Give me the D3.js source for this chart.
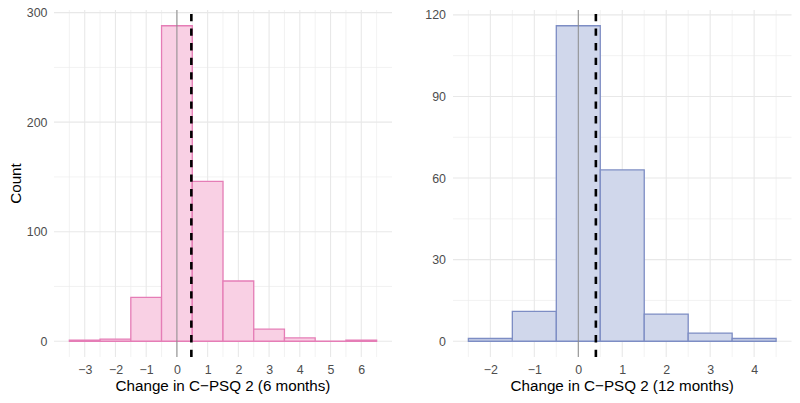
<!DOCTYPE html>
<html>
<head>
<meta charset="utf-8">
<script src="https://cdn.jsdelivr.net/npm/d3@7"></script>
<style>
  body { margin: 0; background: #fff; }
  svg { display: block; font-family: "Liberation Sans", Arial, Helvetica, sans-serif; }
</style>
</head>
<body>
<svg id="chart" width="800" height="403"></svg>
<script>
// ---- Data ----
const binsLeft = [-3, -2, -1, 0, 1, 2, 3, 4, 5, 6];
const countsLeft = [1, 2, 40, 288, 146, 55, 11, 3, 0, 1];
const meanLeft = 0.47;
const xTicksLeft = [-3, -2, -1, 0, 1, 2, 3, 4, 5, 6];
const yTicksLeft = [0, 100, 200, 300];
const titleLeft = "Change in C\u2212PSQ 2 (6 months)";

const binsRight = [-2, -1, 0, 1, 2, 3, 4];
const countsRight = [1, 11, 116, 63, 10, 3, 1];
const meanRight = 0.4;
const xTicksRight = [-2, -1, 0, 1, 2, 3, 4];
const yTicksRight = [0, 30, 60, 90, 120];
const titleRight = "Change in C\u2212PSQ 2 (12 months)";

const yLabel = "Count";

// ---- Drawing ----
const svg = d3.select("#chart");
const binWidth = 1;

function minorBreaks(ticks, domain) {
  const step = ticks[1] - ticks[0];
  const out = [];
  for (let i = -1; i < ticks.length; i++) {
    const base = i < 0 ? ticks[0] - step : ticks[i];
    const m = base + step / 2;
    if (m >= domain[0] && m <= domain[1]) out.push(m);
  }
  return out;
}

function panel(opts) {
  const { left, right, top, bottom, bins, counts, mean, xTicks, yTicks, title, fill, stroke, yPad } = opts;
  const xMin = d3.min(bins) - binWidth / 2, xMax = d3.max(bins) + binWidth / 2;
  const xExp = (xMax - xMin) * 0.05;
  const yMax = d3.max(counts);
  const yExp = yMax * 0.05;
  const x = d3.scaleLinear().domain([xMin - xExp, xMax + xExp]).range([left, right]);
  const y = d3.scaleLinear().domain([-yExp, yMax + yExp]).range([bottom, top]);

  const g = svg.append("g");
  // grid minor
  const xMinor = minorBreaks(xTicks, x.domain());
  const yMinor = minorBreaks(yTicks, y.domain());
  g.selectAll(".xminor").data(xMinor).join("line")
    .attr("x1", d => x(d)).attr("x2", d => x(d)).attr("y1", top).attr("y2", bottom)
    .attr("stroke", "#EDEDED").attr("stroke-width", 0.7);
  g.selectAll(".yminor").data(yMinor).join("line")
    .attr("y1", d => y(d)).attr("y2", d => y(d)).attr("x1", left).attr("x2", right)
    .attr("stroke", "#EDEDED").attr("stroke-width", 0.7);
  // grid major
  g.selectAll(".xmajor").data(xTicks).join("line")
    .attr("x1", d => x(d)).attr("x2", d => x(d)).attr("y1", top).attr("y2", bottom)
    .attr("stroke", "#E8E8E8").attr("stroke-width", 1.1);
  g.selectAll(".ymajor").data(yTicks).join("line")
    .attr("y1", d => y(d)).attr("y2", d => y(d)).attr("x1", left).attr("x2", right)
    .attr("stroke", "#E8E8E8").attr("stroke-width", 1.1);

  // bars (as closed paths so zero-count bins still show their outline)
  g.selectAll(".bar").data(bins.map((b, i) => ({ b, c: counts[i] }))).join("path")
    .attr("d", d => {
      const x0 = x(d.b - binWidth / 2), x1 = x(d.b + binWidth / 2);
      const y0 = y(0), y1 = y(d.c);
      return `M${x0},${y0}L${x0},${y1}L${x1},${y1}L${x1},${y0}Z`;
    })
    .attr("fill", fill).attr("stroke", stroke).attr("stroke-width", 1.3);

  // zero line
  g.append("line").attr("x1", x(0)).attr("x2", x(0)).attr("y1", top).attr("y2", bottom)
    .attr("stroke", "#8a8a8a").attr("stroke-width", 1);
  // mean dashed line (drawn bottom -> top)
  g.append("line").attr("x1", x(mean)).attr("x2", x(mean)).attr("y1", bottom).attr("y2", top)
    .attr("stroke", "#000").attr("stroke-width", 2.6).attr("stroke-dasharray", "7.3,7.3");

  // axes
  const xa = g.append("g").attr("transform", `translate(0,${bottom})`)
    .call(d3.axisBottom(x).tickValues(xTicks).tickSize(0).tickPadding(8)
      .tickFormat(d => d < 0 ? "\u2212" + Math.abs(d) : String(d)));
  const ya = g.append("g").attr("transform", `translate(${left},0)`)
    .call(d3.axisLeft(y).tickValues(yTicks).tickSize(0).tickPadding(yPad));
  [xa, ya].forEach(a => {
    a.select(".domain").remove();
    a.selectAll("text").attr("fill", "#4D4D4D").style("font-size", "12.4px")
      .style("font-family", "'Liberation Sans', Arial, sans-serif");
  });

  g.append("text").attr("x", (left + right) / 2).attr("y", 391)
    .attr("text-anchor", "middle").attr("fill", "#000").style("font-size", "15.2px")
    .text(title);
  return { x, y };
}

panel({ left: 54, right: 392, top: 10, bottom: 357, bins: binsLeft, counts: countsLeft, mean: meanLeft,
  xTicks: xTicksLeft, yTicks: yTicksLeft, title: titleLeft, fill: "#F9D0E4", stroke: "#E57DB6", yPad: 6.5 });
panel({ left: 453, right: 791.5, top: 10, bottom: 357, bins: binsRight, counts: countsRight, mean: meanRight,
  xTicks: xTicksRight, yTicks: yTicksRight, title: titleRight, fill: "#D0D7EB", stroke: "#7D8DC4", yPad: 7 });

svg.append("text").attr("transform", "translate(21,183.5) rotate(-90)")
  .attr("text-anchor", "middle").attr("fill", "#000").style("font-size", "15.2px").text(yLabel);
</script>
</body>
</html>
